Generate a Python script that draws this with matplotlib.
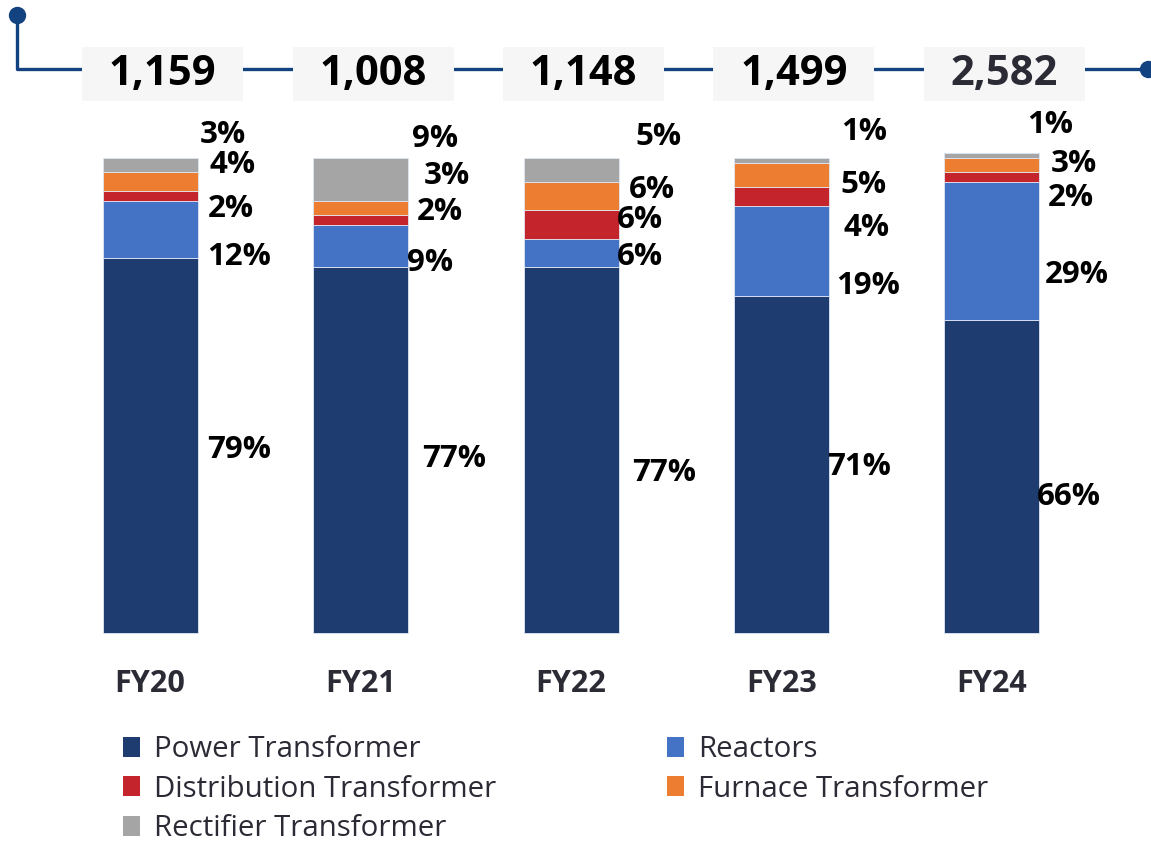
import matplotlib
matplotlib.use('Agg')
import matplotlib.pyplot as plt
from matplotlib.patches import Rectangle, Patch

# ---------------- data ----------------
years = ['FY20', 'FY21', 'FY22', 'FY23', 'FY24']
totals = ['1,159', '1,008', '1,148', '1,499', '2,582']
power = [79, 77, 77, 71, 66]
reactors = [12, 9, 6, 19, 29]
distribution = [2, 2, 6, 4, 2]
furnace = [4, 3, 6, 5, 3]
rectifier = [3, 9, 5, 1, 1]

series_names = ['Power Transformer', 'Reactors', 'Distribution Transformer',
                'Furnace Transformer', 'Rectifier Transformer']
series_vals = [power, reactors, distribution, furnace, rectifier]
colors = ['#1f3c71', '#4472c4', '#c4242b', '#ed7d31', '#a5a5a5']

# ---------------- label layout (px offset from bar right edge, y in % units) ----------------
label_dx = [[10, 10, 10, 12, 2], [14, -1, 9, 16, 4], [14, -2, -2, 10, 17],
            [-2, 7, 15, 11, 12], [-3, 5, 8, 11, -12]]
label_y = [[38.5, 79.2, 89.3, 98.5, 104.8], [36.6, 77.9, 88.6, 96.2, 104.0],
           [33.7, 79.2, 86.9, 93.3, 104.4], [34.9, 73.1, 85.3, 94.3, 105.5],
           [28.6, 75.4, 91.6, 98.7, 106.9]]

W, H, DPI = 1151, 844, 100
X0, STEP = 150.0, 210.5       # px of first bar center, px per category
Y0, YS = 633.0, 4.75          # px of baseline, px per percent
BAR_W_PX = 95.0

def X(px):
    return (px - X0) / STEP

def Y(py):
    return (Y0 - py) / YS

plt.rcParams['font.family'] = ['Open Sans', 'DejaVu Sans']

fig = plt.figure(figsize=(W / DPI, H / DPI), dpi=DPI)
ax = fig.add_axes([0, 0, 1, 1])
ax.set_xlim(X(0), X(W))
ax.set_ylim(Y(H), Y(0))
ax.axis('off')

xs = list(range(len(years)))
bw = BAR_W_PX / STEP
bottoms = [0] * len(years)
for name, vals, col in zip(series_names, series_vals, colors):
    ax.bar(xs, vals, bw, bottom=bottoms, color=col, edgecolor='#dfe6f2',
           linewidth=0.6, label=name, zorder=2)
    bottoms = [bb + v for bb, v in zip(bottoms, vals)]

# percentage labels
for i in xs:
    right_px = X0 + i * STEP + BAR_W_PX / 2
    for s, vals in enumerate(series_vals):
        ax.text(X(right_px + label_dx[i][s]), label_y[i][s], f'{vals[i]}%',
                ha='left', va='center', fontsize=22.5, fontweight='bold',
                color='black', zorder=5)

# category labels
for i, yr in enumerate(years):
    ax.text(i, Y(684), yr, ha='center', va='center', fontsize=22,
            fontweight='bold', color='#2b2b36')

# timeline
line_col = '#12427f'
ax.plot([X(17), X(17), X(1160)], [Y(15), Y(69), Y(69)], color=line_col,
        lw=2.4, zorder=1, solid_capstyle='butt')
ax.plot([X(17)], [Y(15)], 'o', color=line_col, ms=11.5, zorder=3)
ax.plot([X(1148)], [Y(69)], 'o', color=line_col, ms=11.5, zorder=3,
        clip_on=False)

box_w, box_h = 161 / STEP, 54 / YS
for i, t in enumerate(totals):
    cx = i + 12.5 / STEP
    cy = Y(74)
    ax.add_patch(Rectangle((cx - box_w / 2, cy - box_h / 2), box_w, box_h,
                           facecolor='#f6f6f6', edgecolor='none', zorder=2))
    ax.text(cx, Y(75), t, ha='center', va='center', fontsize=30,
            fontweight='bold', color='#2b2b36' if i == 4 else 'black', zorder=4)

# legend
order = [0, 2, 4, 1, 3]
leg_handles = [Patch(facecolor=colors[k], edgecolor='none') for k in order]
leg_labels = [series_names[k] for k in order]
fs = 21.2
em = fs * DPI / 72
fig.legend(leg_handles, leg_labels, ncol=2, loc='upper left',
           bbox_to_anchor=(123 / W, 1 - 735 / H), frameon=False,
           fontsize=fs, handlelength=17 / em, handleheight=20 / em,
           handletextpad=14 / em, columnspacing=5.8, labelspacing=0.36,
           borderpad=0, borderaxespad=0, labelcolor='#2b2b36')

fig.savefig('out.png', dpi=DPI)
